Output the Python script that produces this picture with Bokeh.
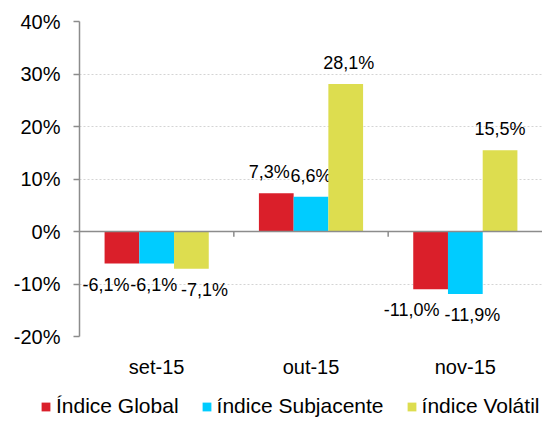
from bokeh.core.properties import value
from bokeh.embed import file_html
from bokeh.layouts import column
from bokeh.models import (ColumnDataSource, FactorRange, FixedTicker, Legend,
                          LegendItem, Range1d, Span)
from bokeh.plotting import figure
from bokeh.resources import INLINE
from bokeh.transform import dodge

months = ["set-15", "out-15", "nov-15"]
series_names = ["Índice Global", "índice Subjacente", "índice Volátil"]
indice_global = [-6.1, 7.3, -11.0]
indice_subjacente = [-6.1, 6.6, -11.9]
indice_volatil = [-7.1, 28.1, 15.5]
y_ticks = [-20, -10, 0, 10, 20, 30, 40]

FONT = value("Liberation Sans")
colors = ["#DA1F2A", "#00CCFF", "#DDDD4F"]
offsets = [-0.225, 0.0, 0.225]
# excel pushed a few labels sideways so they don't collide
label_nudge = [[-16, -7, -19], [-3, 0, 7], [13, 3, 0]]

source = ColumnDataSource(data={
    "month": months,
    "g": indice_global,
    "s": indice_subjacente,
    "v": indice_volatil,
})

p = figure(x_range=FactorRange(*months), y_range=Range1d(-20, 40),
           width=542, height=380, output_backend="svg",
           toolbar_location=None, tools="",
           min_border_left=79, min_border_right=0,
           min_border_top=21, min_border_bottom=42)
p.frame_align = False

p.outline_line_color = None
p.xgrid.grid_line_color = None
p.ygrid.ticker = FixedTicker(ticks=y_ticks)
p.ygrid.grid_line_color = "#d4d4d4"
p.ygrid.grid_line_dash = "2 2"

p.yaxis.ticker = FixedTicker(ticks=y_ticks)
p.yaxis.major_label_overrides = {t: f"{t}%" for t in y_ticks}
p.yaxis.axis_line_color = "#8c8c8c"
p.yaxis.axis_line_width = 1.5
p.yaxis.major_tick_line_color = "#8c8c8c"
p.yaxis.major_tick_line_width = 1.5
p.yaxis.major_tick_out = 6
p.yaxis.major_tick_in = 0
p.yaxis.minor_tick_line_color = None
p.yaxis.major_label_standoff = 13

p.xaxis.axis_line_color = None
p.xaxis.major_tick_line_color = None
p.xaxis.major_label_standoff = 13

for ax in (p.xaxis, p.yaxis):
    ax.major_label_text_font = "Liberation Sans"
    ax.major_label_text_font_size = "20px"
    ax.major_label_text_font_style = "normal"
    ax.major_label_text_color = "black"

for key, off, color, nudge in zip(["g", "s", "v"], offsets, colors, label_nudge):
    p.vbar(x=dodge("month", off, range=p.x_range), top=key, width=0.225,
           source=source, fill_color=color, line_color=None)

    vals = source.data[key]
    lbl = ColumnDataSource(data={
        "month": months,
        "y": vals,
        "text": [f"{v:.1f}%".replace(".", ",") for v in vals],
        "dy": [21 if v < 0 else -21 for v in vals],
        "dx": nudge,
    })
    p.text(x=dodge("month", off, range=p.x_range), y="y", text="text",
           x_offset="dx", y_offset="dy", source=lbl,
           text_font=FONT, text_font_size="18px", text_color="black",
           text_align="center", text_baseline="middle")

# zero line with little ticks between the months
p.add_layout(Span(location=0, dimension="width", line_color="#8c8c8c", line_width=1.5))
tick_src = ColumnDataSource(data={"month": months[:2]})
p.segment(x0=dodge("month", 0.5, range=p.x_range), x1=dodge("month", 0.5, range=p.x_range),
          y0=0, y1=-1.0, source=tick_src, line_color="#8c8c8c", line_width=1.5)

# legend lives in its own strip so it can sit further left than the plot frame
leg = figure(width=542, height=38, output_backend="svg", toolbar_location=None, tools="",
             x_range=Range1d(0, 1), y_range=Range1d(0, 1),
             x_axis_location=None, y_axis_location=None,
             min_border_left=0, min_border_right=0, min_border_top=0, min_border_bottom=0)
leg.frame_align = False
leg.grid.visible = False
leg.outline_line_color = None
items = []
for name, color in zip(series_names, colors):
    # parked outside the visible range, only here to feed the legend swatch
    r = leg.vbar(x=[5], top=[5], bottom=[4], width=0.1, fill_color=color, line_color=None)
    items.append(LegendItem(label=name, renderers=[r]))
legend = Legend(items=items, orientation="horizontal", location=(40, 0),
                glyph_width=11, glyph_height=11, label_standoff=5, spacing=22,
                padding=0, margin=0, border_line_color=None, background_fill_alpha=0,
                label_text_font="Liberation Sans", label_text_font_size="21px",
                label_text_color="black")
leg.add_layout(legend)

open("out.html", "w").write(file_html(column(p, leg), INLINE))
